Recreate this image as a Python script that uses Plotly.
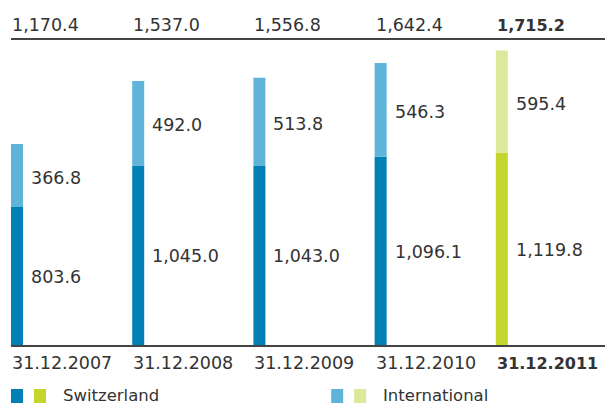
import plotly.graph_objects as go

years = ["31.12.2007", "31.12.2008", "31.12.2009", "31.12.2010", "31.12.2011"]
switzerland = [803.6, 1045.0, 1043.0, 1096.1, 1119.8]
international = [366.8, 492.0, 513.8, 546.3, 595.4]
legend_names = ["Switzerland", "International"]

dark_colors = ["#0080B4"] * 4 + ["#C3D62E"]
light_colors = ["#5FB4DA"] * 4 + ["#DDE89A"]
TXT = "#333333"
FONT = "DejaVu Sans"
FS = 17.5
FS_BOLD = 16

x = list(range(len(years)))
totals = [a + b for a, b in zip(switzerland, international)]

fig = go.Figure()
fig.add_trace(go.Bar(x=x, y=switzerland, marker=dict(color=dark_colors, line=dict(width=0)),
                     width=0.099, showlegend=False, hoverinfo="skip"))
fig.add_trace(go.Bar(x=x, y=international, base=switzerland,
                     marker=dict(color=light_colors, line=dict(width=0)),
                     width=0.099, showlegend=False, hoverinfo="skip"))

ann = []
for i in x:
    last = i == len(x) - 1
    def fmt(s):
        return f"<b>{s}</b>" if last else s
    fsz = FS_BOLD if last else FS
    ann.append(dict(x=i, y=switzerland[i] / 2, text=f"{switzerland[i]:,.1f}", xanchor="left",
                    yanchor="middle", showarrow=False, xshift=12, yshift=-1))
    ann.append(dict(x=i, y=switzerland[i] + international[i] / 2, text=f"{international[i]:,.1f}",
                    xanchor="left", yanchor="middle", showarrow=False, xshift=12, yshift=-2))
    ann.append(dict(x=i, xref="x", y=1, yref="paper", text=fmt(f"{totals[i]:,.1f}"), xanchor="left",
                    yanchor="middle", showarrow=False, xshift=-7, yshift=15, font=dict(size=fsz)))
    ann.append(dict(x=i, xref="x", y=0, yref="paper", text=fmt(years[i]), xanchor="left",
                    yanchor="middle", showarrow=False, xshift=-7, yshift=-18, font=dict(size=fsz)))

# legend (manual: two swatches per entry)
shapes = []
leg_x = [0.0, 0.539]
for k, name in enumerate(legend_names):
    cols = [dark_colors[0], dark_colors[-1]] if k == 0 else [light_colors[0], light_colors[-1]]
    for j, c in enumerate(cols):
        x0 = leg_x[k] + j * 23 / 594
        shapes.append(dict(type="rect", xref="paper", yref="paper", x0=x0, x1=x0 + 12 / 594,
                           y0=-0.1902, y1=-0.1443, fillcolor=c, line=dict(width=0)))
    ann.append(dict(x=leg_x[k] + 50 / 594, xref="paper", y=-0.167, yref="paper", text=name,
                    xanchor="left", yanchor="middle", showarrow=False, font=dict(size=16.5)))

fig.update_layout(
    width=605, height=406,
    margin=dict(l=11, r=0, t=40, b=61),
    paper_bgcolor="white", plot_bgcolor="white",
    barmode="overlay",
    font=dict(family=FONT, size=FS, color=TXT),
    annotations=ann, shapes=shapes,
    xaxis=dict(range=[-0.0495, 4.851], showticklabels=False, ticks="", showgrid=False,
               zeroline=False, showline=True, mirror=True, linecolor="#444444", linewidth=1.5),
    yaxis=dict(range=[0, 1776], visible=False, showgrid=False),
)

fig.write_html("out.html")
